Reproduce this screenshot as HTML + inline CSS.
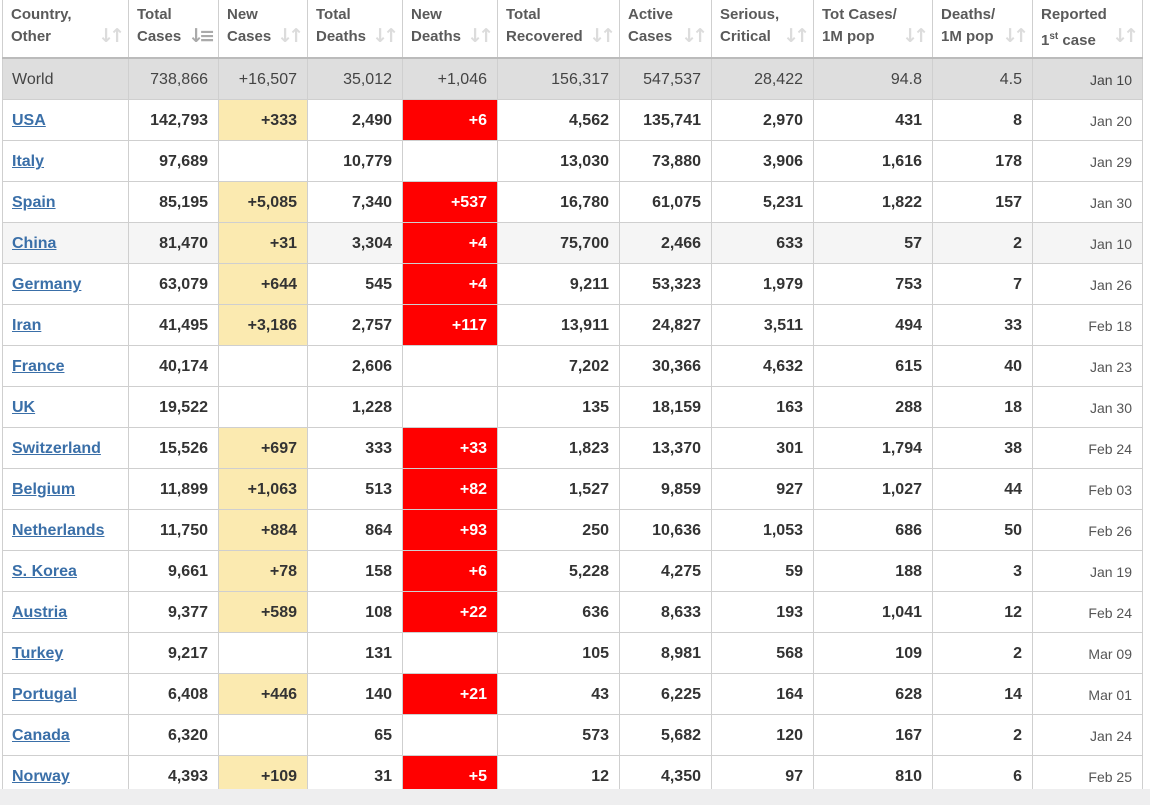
<!DOCTYPE html>
<html><head><meta charset="utf-8"><style>
html,body{margin:0;padding:0;width:1150px;height:805px;overflow:hidden;background:#eeeeef;font-family:"Liberation Sans",Arial,sans-serif;}
.wrap{position:absolute;left:0;top:0;width:1150px;height:789px;background:#fff;overflow:hidden;}
table{position:absolute;left:2px;top:-1px;border-collapse:collapse;table-layout:fixed;}
td,th{border:1px solid #cfcfcf;padding:2px 10px 0 8px;height:38px;font-size:16px;color:#333;text-align:right;font-weight:bold;white-space:nowrap;overflow:hidden;}
th{height:53px;font-size:15px;color:#5a5a5a;text-align:left;vertical-align:top;line-height:22px;padding-top:4px;padding-bottom:0;position:relative;border-bottom:2px solid #bbb;}
th .s{position:absolute;right:8px;bottom:10px;color:#dcdcdc;font-size:19px;line-height:22px;letter-spacing:-5px;font-weight:bold;font-family:"DejaVu Sans",sans-serif;}
td.c{text-align:left;padding-left:9px;}
td.c a{color:#3a6fa8;text-decoration:underline;}
tr.w td{background:#dedede;font-weight:normal;color:#444;}
tr.g td{background:#f5f5f5;}
td.y{background:#fbeab0 !important;}
td.r{background:#ff0000 !important;color:#fff;}
td.d{font-weight:normal;font-size:14px;color:#555;}
sup{font-size:10px;}
</style></head><body><div class="wrap">
<table>
<colgroup><col style="width:126px"><col style="width:90px"><col style="width:89px"><col style="width:95px"><col style="width:95px"><col style="width:122px"><col style="width:92px"><col style="width:102px"><col style="width:119px"><col style="width:100px"><col style="width:110px"></colgroup>
<tr><th>Country,<br>Other<span class="s">↓↑</span></th><th>Total<br>Cases<span class="s" style="color:#aaa">↓≡</span></th><th>New<br>Cases<span class="s">↓↑</span></th><th>Total<br>Deaths<span class="s">↓↑</span></th><th>New<br>Deaths<span class="s">↓↑</span></th><th>Total<br>Recovered<span class="s">↓↑</span></th><th>Active<br>Cases<span class="s">↓↑</span></th><th>Serious,<br>Critical<span class="s">↓↑</span></th><th>Tot Cases/<br>1M pop<span class="s">↓↑</span></th><th>Deaths/<br>1M pop<span class="s">↓↑</span></th><th>Reported<br>1<sup>st</sup> case<span class="s">↓↑</span></th></tr>
<tr class="w"><td class="c">World</td><td>738,866</td><td>+16,507</td><td>35,012</td><td>+1,046</td><td>156,317</td><td>547,537</td><td>28,422</td><td>94.8</td><td>4.5</td><td class="d">Jan 10</td></tr>
<tr><td class="c"><a>USA</a></td><td>142,793</td><td class="y">+333</td><td>2,490</td><td class="r">+6</td><td>4,562</td><td>135,741</td><td>2,970</td><td>431</td><td>8</td><td class="d">Jan 20</td></tr>
<tr><td class="c"><a>Italy</a></td><td>97,689</td><td></td><td>10,779</td><td></td><td>13,030</td><td>73,880</td><td>3,906</td><td>1,616</td><td>178</td><td class="d">Jan 29</td></tr>
<tr><td class="c"><a>Spain</a></td><td>85,195</td><td class="y">+5,085</td><td>7,340</td><td class="r">+537</td><td>16,780</td><td>61,075</td><td>5,231</td><td>1,822</td><td>157</td><td class="d">Jan 30</td></tr>
<tr class="g"><td class="c"><a>China</a></td><td>81,470</td><td class="y">+31</td><td>3,304</td><td class="r">+4</td><td>75,700</td><td>2,466</td><td>633</td><td>57</td><td>2</td><td class="d">Jan 10</td></tr>
<tr><td class="c"><a>Germany</a></td><td>63,079</td><td class="y">+644</td><td>545</td><td class="r">+4</td><td>9,211</td><td>53,323</td><td>1,979</td><td>753</td><td>7</td><td class="d">Jan 26</td></tr>
<tr><td class="c"><a>Iran</a></td><td>41,495</td><td class="y">+3,186</td><td>2,757</td><td class="r">+117</td><td>13,911</td><td>24,827</td><td>3,511</td><td>494</td><td>33</td><td class="d">Feb 18</td></tr>
<tr><td class="c"><a>France</a></td><td>40,174</td><td></td><td>2,606</td><td></td><td>7,202</td><td>30,366</td><td>4,632</td><td>615</td><td>40</td><td class="d">Jan 23</td></tr>
<tr><td class="c"><a>UK</a></td><td>19,522</td><td></td><td>1,228</td><td></td><td>135</td><td>18,159</td><td>163</td><td>288</td><td>18</td><td class="d">Jan 30</td></tr>
<tr><td class="c"><a>Switzerland</a></td><td>15,526</td><td class="y">+697</td><td>333</td><td class="r">+33</td><td>1,823</td><td>13,370</td><td>301</td><td>1,794</td><td>38</td><td class="d">Feb 24</td></tr>
<tr><td class="c"><a>Belgium</a></td><td>11,899</td><td class="y">+1,063</td><td>513</td><td class="r">+82</td><td>1,527</td><td>9,859</td><td>927</td><td>1,027</td><td>44</td><td class="d">Feb 03</td></tr>
<tr><td class="c"><a>Netherlands</a></td><td>11,750</td><td class="y">+884</td><td>864</td><td class="r">+93</td><td>250</td><td>10,636</td><td>1,053</td><td>686</td><td>50</td><td class="d">Feb 26</td></tr>
<tr><td class="c"><a>S. Korea</a></td><td>9,661</td><td class="y">+78</td><td>158</td><td class="r">+6</td><td>5,228</td><td>4,275</td><td>59</td><td>188</td><td>3</td><td class="d">Jan 19</td></tr>
<tr><td class="c"><a>Austria</a></td><td>9,377</td><td class="y">+589</td><td>108</td><td class="r">+22</td><td>636</td><td>8,633</td><td>193</td><td>1,041</td><td>12</td><td class="d">Feb 24</td></tr>
<tr><td class="c"><a>Turkey</a></td><td>9,217</td><td></td><td>131</td><td></td><td>105</td><td>8,981</td><td>568</td><td>109</td><td>2</td><td class="d">Mar 09</td></tr>
<tr><td class="c"><a>Portugal</a></td><td>6,408</td><td class="y">+446</td><td>140</td><td class="r">+21</td><td>43</td><td>6,225</td><td>164</td><td>628</td><td>14</td><td class="d">Mar 01</td></tr>
<tr><td class="c"><a>Canada</a></td><td>6,320</td><td></td><td>65</td><td></td><td>573</td><td>5,682</td><td>120</td><td>167</td><td>2</td><td class="d">Jan 24</td></tr>
<tr><td class="c"><a>Norway</a></td><td>4,393</td><td class="y">+109</td><td>31</td><td class="r">+5</td><td>12</td><td>4,350</td><td>97</td><td>810</td><td>6</td><td class="d">Feb 25</td></tr>
</table>
</div></body></html>
